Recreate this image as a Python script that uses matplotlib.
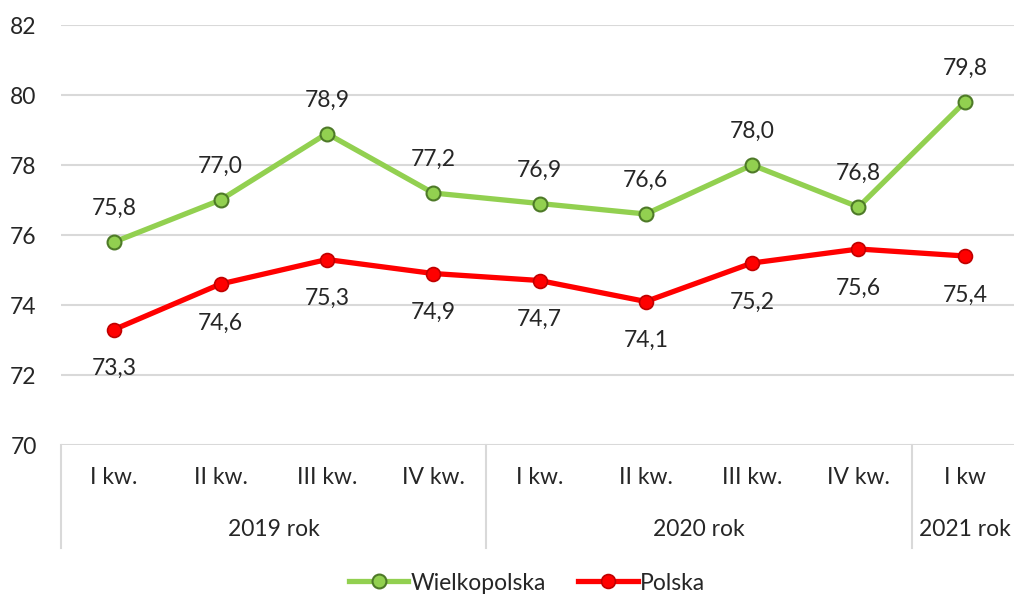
import matplotlib
matplotlib.use("Agg")
import matplotlib.pyplot as plt
from matplotlib.lines import Line2D

# data
quarters = ["I kw.", "II kw.", "III kw.", "IV kw.", "I kw.", "II kw.", "III kw.", "IV kw.", "I kw"]
years = ["2019 rok", "2020 rok", "2021 rok"]
year_spans = [(0, 4), (4, 8), (8, 9)]
wielkopolska = [75.8, 77.0, 78.9, 77.2, 76.9, 76.6, 78.0, 76.8, 79.8]
polska = [73.3, 74.6, 75.3, 74.9, 74.7, 74.1, 75.2, 75.6, 75.4]
yticks = [70, 72, 74, 76, 78, 80, 82]

plt.rcParams['font.family'] = ['Lato', 'DejaVu Sans']
fs = 16.5
txtcol = "#262626"
grid = "#d9d9d9"
green = "#92d050"
green_edge = "#4e7a28"
red = "#ff0000"
red_edge = "#c00000"

fig = plt.figure(figsize=(10.14, 5.97), dpi=100)
W, H = 1014, 597
x0, x1 = 61, 1018
ytop, ybot = 25, 445
ax = fig.add_axes([x0 / W, 1 - ybot / H, (x1 - x0) / W, (ybot - ytop) / H])
ax.set_xlim(-0.5, 8.5)
ax.set_ylim(70, 82)

for t in yticks:
    ax.axhline(t, color=grid, lw=1.5, zorder=0)
for s in ax.spines.values():
    s.set_visible(False)
ax.set_yticks(yticks)
ax.set_yticklabels([str(t) for t in yticks], fontsize=fs, color=txtcol)
ax.tick_params(axis='y', length=0, pad=17.5)
ax.set_xticks([])

xs = list(range(len(quarters)))
ax.plot(xs, wielkopolska, color=green, lw=3.8, marker='o', ms=10,
        mfc=green, mec=green_edge, mew=1.5, zorder=3, clip_on=False)
ax.plot(xs, polska, color=red, lw=3.8, marker='o', ms=10,
        mfc=red, mec=red_edge, mew=1.2, zorder=3, clip_on=False)

for x, v in zip(xs, wielkopolska):
    ax.annotate(f"{v:.1f}".replace(".", ","), (x, v), xytext=(0, 24),
                textcoords='offset points', ha='center', va='center',
                fontsize=fs, color=txtcol)
for x, v in zip(xs, polska):
    ax.annotate(f"{v:.1f}".replace(".", ","), (x, v), xytext=(0, -28),
                textcoords='offset points', ha='center', va='center',
                fontsize=fs, color=txtcol)

# category axis below the plot
trans = ax.get_xaxis_transform()
for x, q in zip(xs, quarters):
    ax.text(x, -33 / 420, q, transform=trans, ha='center', va='center',
            fontsize=fs, color=txtcol, clip_on=False)
for (a, b), y in zip(year_spans, years):
    ax.text((a + b - 1) / 2, -84 / 420, y, transform=trans, ha='center',
            va='center', fontsize=fs, color=txtcol, clip_on=False)
for b in [-0.5, 3.5, 7.5]:
    ax.add_line(Line2D([b, b], [0, -103 / 420], transform=trans, color=grid,
                       lw=1.5, clip_on=False))

handles = [Line2D([], [], color=green, lw=3.8, marker='o', ms=10, mfc=green,
                  mec=green_edge, mew=1.5),
           Line2D([], [], color=red, lw=3.8, marker='o', ms=10, mfc=red,
                  mec=red_edge, mew=1.2)]
fig.legend(handles, ["Wielkopolska", "Polska"], loc='center',
           bbox_to_anchor=(527 / W, 1 - 583 / H), ncol=2, frameon=False,
           fontsize=fs, handlelength=2.6, handletextpad=0.1, columnspacing=1.4,
           labelcolor=txtcol)

fig.savefig("out.png", dpi=100)
